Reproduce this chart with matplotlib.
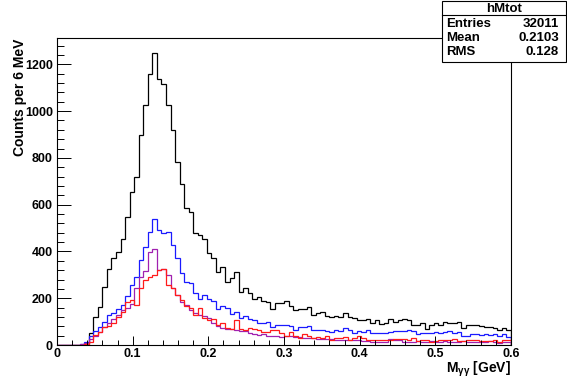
import numpy as np
import matplotlib
matplotlib.use("Agg")
import matplotlib.pyplot as plt
from matplotlib.patches import Rectangle
from matplotlib.lines import Line2D
from matplotlib.ticker import MultipleLocator

plt.rcParams["font.family"] = ["Liberation Sans", "DejaVu Sans"]
plt.rcParams["font.weight"] = "bold"
plt.rcParams["mathtext.fontset"] = "custom"
plt.rcParams["mathtext.rm"] = "Liberation Sans:bold"
plt.rcParams["mathtext.it"] = "Liberation Sans:bold"
plt.rcParams["mathtext.bf"] = "Liberation Sans:bold"

# ── Histogram contents (100 bins of 6 MeV, 0 - 0.6 GeV) ──────────
x_min, x_max, n_bins = 0.0, 0.6, 100

h_total = [0, 0, 0, 0, 0, 0, 5, 50, 121, 164,
           249, 327, 370, 398, 455, 548, 655, 719, 897, 1025,
           1160, 1250, 1139, 1117, 1025, 918, 783, 690, 584, 569,
           477, 470, 455, 392, 370, 313, 334, 270, 285, 313,
           228, 242, 221, 195, 206, 189, 185, 152, 181, 181,
           189, 167, 149, 152, 155, 161, 128, 135, 142, 124,
           118, 124, 118, 135, 118, 114, 107, 107, 110, 92,
           107, 90, 92, 110, 100, 107, 110, 105, 85, 85,
           92, 67, 85, 95, 85, 100, 92, 95, 100, 71,
           85, 85, 85, 82, 78, 78, 71, 64, 71, 64]

h_blue = [0, 0, 0, 0, 0, 5, 12, 40, 60, 78,
          100, 128, 135, 152, 170, 210, 256, 292, 363, 420,
          484, 538, 491, 480, 484, 427, 370, 306, 270, 265,
          224, 195, 213, 195, 190, 152, 165, 158, 132, 140,
          114, 126, 112, 105, 95, 96, 100, 76, 85, 85,
          85, 80, 64, 76, 75, 81, 64, 64, 64, 61,
          57, 64, 61, 71, 64, 53, 61, 57, 64, 50,
          53, 53, 53, 57, 61, 61, 61, 64, 61, 47,
          50, 50, 50, 57, 53, 57, 61, 53, 57, 38,
          38, 47, 47, 43, 47, 43, 47, 38, 47, 36]

h_magenta = [0, 0, 0, 0, 0, 3, 10, 25, 40, 55,
             75, 95, 110, 130, 150, 160, 175, 245, 292, 317,
             398, 409, 320, 327, 300, 245, 212, 185, 170, 148,
             138, 128, 122, 114, 95, 80, 72, 70, 68, 64,
             60, 60, 52, 46, 44, 45, 40, 38, 38, 36,
             38, 40, 36, 34, 32, 32, 30, 24, 24, 24,
             24, 22, 21, 21, 21, 21, 21, 18, 18, 14,
             14, 14, 14, 24, 22, 22, 14, 14, 14, 16,
             12, 14, 18, 14, 12, 16, 14, 12, 14, 16,
             12, 14, 12, 14, 12, 16, 12, 10, 14, 12]

h_red = [0, 0, 0, 0, 0, 0, 3, 14, 43, 57,
         78, 80, 92, 121, 142, 185, 192, 171, 242, 277,
         292, 299, 320, 327, 255, 245, 215, 192, 165, 157,
         130, 160, 114, 108, 110, 85, 95, 72, 70, 107,
         67, 65, 72, 70, 64, 55, 57, 62, 62, 50,
         40, 55, 38, 30, 45, 38, 28, 36, 32, 38,
         21, 32, 32, 36, 21, 32, 38, 28, 21, 21,
         21, 21, 21, 21, 24, 24, 24, 21, 28, 18,
         21, 21, 14, 18, 21, 21, 21, 24, 18, 18,
         21, 21, 21, 18, 18, 18, 21, 14, 21, 21]

stat_name = "hMtot"
stat_rows = [("Entries", "32011"), ("Mean", "0.2103"), ("RMS", "0.128")]

W, H = 567, 384
fig = plt.figure(figsize=(W / 100, H / 100), dpi=100)
fig.patch.set_facecolor("white")


def fx(px):
    return px / W


def fy(py):
    return 1 - py / H


ax = fig.add_axes([fx(57), fy(345), (511 - 57) / W, (345 - 38) / H])

edges = np.linspace(x_min, x_max, n_bins + 1)
lw = 0.9
ax.stairs(h_total, edges, color="black", lw=lw, baseline=0)
ax.stairs(h_blue, edges, color="#1a1aff", lw=lw, baseline=0)
ax.stairs(h_magenta, edges, color="#a020b0", lw=lw, baseline=0)
ax.stairs(h_red, edges, color="#ff1a1a", lw=lw, baseline=0)

ax.set_xlim(x_min, x_max)
ax.set_ylim(0, 1.05 * max(h_total))

ax.xaxis.set_major_locator(MultipleLocator(0.1))
ax.xaxis.set_minor_locator(MultipleLocator(0.02))
ax.yaxis.set_major_locator(MultipleLocator(200))
ax.yaxis.set_minor_locator(MultipleLocator(40))
ax.xaxis.set_major_formatter(plt.FuncFormatter(lambda v, p: f"{v:g}"))

ax.tick_params(axis="x", which="major", direction="in", length=6.6, width=0.7,
               labelsize=9, pad=2, top=False)
ax.tick_params(axis="x", which="minor", direction="in", length=3.3, width=0.7,
               top=False)
ax.tick_params(axis="y", which="major", direction="in", length=9.8, width=0.7,
               labelsize=9, pad=3, right=False)
ax.tick_params(axis="y", which="minor", direction="in", length=4.9, width=0.7,
               right=False)
for lab in ax.get_xticklabels() + ax.get_yticklabels():
    lab.set_fontweight("bold")
for s in ax.spines.values():
    s.set_linewidth(0.8)

fig.text(fx(20), fy(39), "Counts per 6 MeV", rotation=90, ha="center",
         va="top", fontsize=10, fontweight="bold")
fig.text(fx(511), fy(369), r"M$_{\gamma\gamma}$ [GeV]", ha="right",
         va="center", fontsize=10, fontweight="bold")

# ── Stat box ──────────────────────────────────────────────
bx0, bx1, by0, by1 = 442, 566, 1, 62
fig.patches.append(Rectangle((fx(bx0), fy(by1)), (bx1 - bx0) / W,
                             (by1 - by0) / H, transform=fig.transFigure,
                             facecolor="white", edgecolor="black", lw=0.8,
                             zorder=5))
fig.lines.append(Line2D([fx(bx0), fx(bx1)], [fy(15), fy(15)],
                        transform=fig.transFigure, color="black", lw=0.8,
                        zorder=6))
fig.text(fx((bx0 + bx1) / 2), fy(8.5), stat_name, ha="center", va="center",
         fontsize=9.5, fontweight="bold", zorder=7)
for i, (k, v) in enumerate(stat_rows):
    yy = 24 + i * 14
    fig.text(fx(446), fy(yy), k, ha="left", va="center", fontsize=9.5,
             fontweight="bold", zorder=7)
    fig.text(fx(559), fy(yy), v, ha="right", va="center", fontsize=9.5,
             fontweight="bold", zorder=7)

fig.savefig("out.png", dpi=100)
